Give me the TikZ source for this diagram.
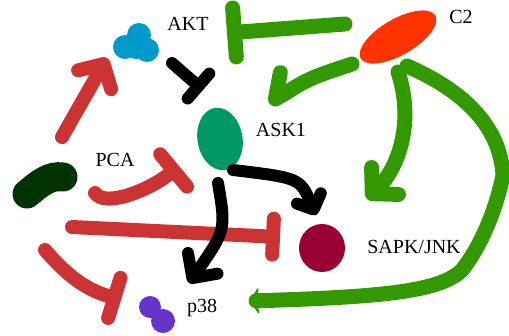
\documentclass[tikz,border=0pt]{standalone}
\usepackage{fontspec}
\setmainfont{Liberation Serif}
\usetikzlibrary{arrows.meta,shapes.geometric}
\definecolor{aktblue}{HTML}{0099CC}
\definecolor{ctwored}{HTML}{FF3300}
\definecolor{askgreen}{HTML}{009966}
\definecolor{pcadark}{HTML}{003300}
\definecolor{sapkred}{HTML}{990033}
\definecolor{ppurple}{HTML}{6633CC}
\definecolor{inred}{HTML}{CC3333}
\definecolor{ingreen}{HTML}{339900}
\tikzset{
  lab/.style={font=\fontsize{20}{24}\selectfont, inner sep=0pt},
  blob/.style={inner sep=0pt, draw=none},
  redline/.style={draw=inred, line width=14pt, line cap=round, line join=round},
  greenline/.style={draw=ingreen, line width=15pt, line cap=round, line join=round},
  blackline/.style={draw=black, line width=12pt, line cap=round, line join=round},
  actto/.style 2 args={-{Straight Barb[length=#1, width=#2, round]}},
  inhto/.style={-{Bar[width=#1, round]}}
}

\begin{document}
\begin{tikzpicture}[x=1pt,y=-1pt]
\useasboundingbox (0,0) rectangle (509,335);

% blobs
\fill[aktblue] (139,35) circle (12) (125,47) circle (12) (147,50) circle (12) (136,49) circle (10);
\coordinate (akt) at (137,44);
\node[blob, ellipse, fill=ctwored, minimum width=86pt, minimum height=36pt, rotate=30] (c2) at (398,37) {};
\node[blob, ellipse, fill=askgreen, minimum width=45pt, minimum height=63pt, rotate=10] (ask1) at (220,139) {};
\draw[pcadark, line width=29pt, line cap=round] (27,194) .. controls (40,183) and (50,175) .. (63,177);
\coordinate (pca) at (45,186);
\node[blob, ellipse, fill=sapkred, minimum width=46pt, minimum height=48pt] (sapk) at (322,248) {};
\fill[ppurple] (150,307) circle (11) (163,321) circle (12);
\coordinate (p38) at (156,314);

% labels
\node[lab] (l0) at (188,24) {AKT};
\node[lab] (l1) at (461,17) {C2};
\node[lab] (l2) at (281,130) {ASK1};
\node[lab] (l3) at (115,160) {PCA};
\node[lab] (l4) at (414,247) {SAPK/JNK};
\node[lab] (l5) at (202,308) {p38};

% connector ends
\coordinate (s1) at (62,137);  \coordinate (e1) at (107,58);
\coordinate (s2) at (95,193);  \coordinate (e2) at (179,166);
\coordinate (s3) at (72,227);  \coordinate (e3) at (280,237);
\coordinate (s4) at (45,250);  \coordinate (e4) at (121,300);
\coordinate (s5) at (172,63);  \coordinate (e5) at (203,90);
\coordinate (s6) at (233,170); \coordinate (e6) at (316,215);
\coordinate (s7) at (218,183); \coordinate (e7) at (189,283);
\coordinate (s8) at (345,24);  \coordinate (e8) at (227,33);
\coordinate (s9) at (352,64);  \coordinate (e9) at (269,103);
\coordinate (s10) at (398,72); \coordinate (e10) at (367,199);
\coordinate (s11) at (407,66); \coordinate (e11) at (250,301);

% PCA
\draw[redline, actto={18pt}{38pt}] (s1) -- (e1);
\draw[redline, inhto=42pt] (s2) .. controls (105,208) and (150,190) .. (e2);
\draw[redline, inhto=36pt] (s3) -- (e3);
\draw[redline, inhto=42pt] (s4) .. controls (75,285) and (95,292) .. (e4);
% AKT, ASK1
\draw[blackline, inhto=33pt] (s5) -- (e5);
\draw[blackline, actto={12pt}{26pt}] (s6) .. controls (300,178) .. (e6);
\draw[blackline, actto={18pt}{36pt}] (s7) .. controls (226,230) .. (e7);
% C2
\draw[greenline, inhto=49pt] (s8) -- (e8);
\draw[greenline, -{Straight Barb[length=18pt, width=40pt, round, harpoon, swap]}] (s9) .. controls (310,78) .. (e9);
\draw[greenline, actto={18pt}{38pt}] (s10) .. controls (414,120) and (400,166) .. (e10);
\draw[greenline, -{Stealth[length=10pt, width=32pt, round]}] (s11) .. controls (462,90) and (500,125) .. (503,175)
  .. controls (495,215) and (478,250) .. (462,270) .. controls (440,292) and (380,297) .. (e11);
\end{tikzpicture}
\end{document}
